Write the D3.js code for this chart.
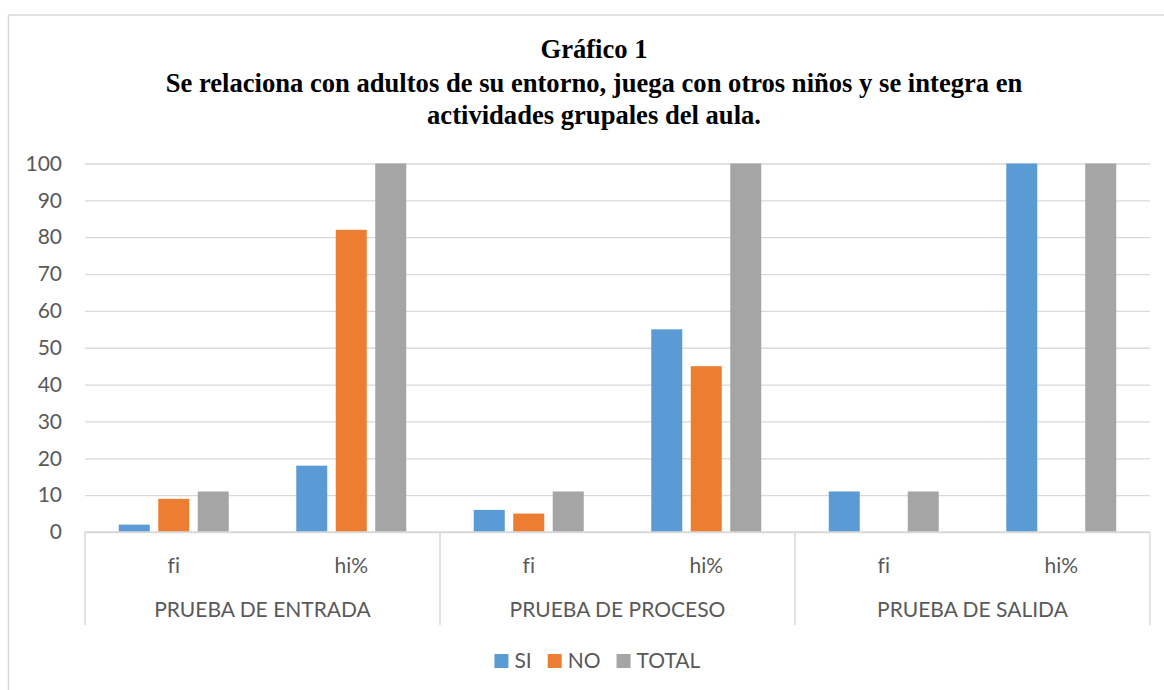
<!DOCTYPE html>
<html>
<head>
<meta charset="utf-8">
<script src="https://cdn.jsdelivr.net/npm/d3@7"></script>
<style>
  html, body { margin: 0; padding: 0; background: #ffffff; }
  svg { display: block; }
  .tick text { font-family: Lato, "Open Sans", sans-serif; }
  text.measure { font-variant-ligatures: none; font-feature-settings: "liga" 0, "clig" 0; }
</style>
</head>
<body>
<svg id="chart" width="1164" height="690"></svg>
<script>
// Grouped columns: three tests, each split into fi / hi%, three series per slot
const tests = ["PRUEBA DE ENTRADA", "PRUEBA DE PROCESO", "PRUEBA DE SALIDA"];
const measures = ["fi", "hi%"];
const seriesNames = ["SI", "NO", "TOTAL"];
const seriesColors = ["#5b9bd5", "#ed7d31", "#a5a5a5"];
const siValues    = [2, 18, 6, 55, 11, 100];
const noValues    = [9, 82, 5, 45, 0, 0];
const totalValues = [11, 100, 11, 100, 11, 100];
const yTicks = [0, 10, 20, 30, 40, 50, 60, 70, 80, 90, 100];
const titleLines = [
  "Gráfico 1",
  "Se relaciona con adultos de su entorno, juega con otros niños y se integra en",
  "actividades grupales del aula."
];

const seriesValues = [siValues, noValues, totalValues];
const slots = [];
tests.forEach((t, i) => measures.forEach((m, j) => slots.push({ key: t + "|" + m, test: t, measure: m })));

const svg = d3.select("#chart");
const W = 1164, H = 690;
const plot = { left: 85, right: 1150, top: 163.5, bottom: 532 };
const centerX = 594;
const axisColor = "#d9d9d9";
const textColor = "#595959";
const sansFont = "Lato, 'Open Sans', sans-serif";

// chart frame
svg.append("rect")
  .attr("x", 8.5).attr("y", 15)
  .attr("width", W + 20).attr("height", H + 20)
  .attr("fill", "#ffffff")
  .attr("stroke", axisColor).attr("stroke-width", 1.5);

// title
const titleBaselines = [58, 92, 124];
svg.append("g").selectAll("text")
  .data(titleLines)
  .join("text")
  .attr("x", centerX)
  .attr("y", (d, i) => titleBaselines[i])
  .attr("text-anchor", "middle")
  .attr("font-family", "'Liberation Serif', 'Times New Roman', serif")
  .attr("font-weight", "bold")
  .attr("font-size", 26.6)
  .attr("fill", "#000000")
  .text(d => d);

// scales
const x0 = d3.scaleBand()
  .domain(slots.map(s => s.key))
  .range([plot.left, plot.right])
  .padding(0);

const x1 = d3.scaleBand()
  .domain(seriesNames)
  .range([0, x0.bandwidth()])
  .paddingInner(0.215)
  .paddingOuter(0.855);

const y = d3.scaleLinear()
  .domain([0, 100])
  .range([plot.bottom, plot.top]);

// gridlines + value labels
const yAxis = d3.axisLeft(y)
  .tickValues(yTicks)
  .tickSize(-(plot.right - plot.left))
  .tickPadding(23)
  .tickFormat(d3.format("d"));

const yg = svg.append("g")
  .attr("transform", `translate(${plot.left},0)`)
  .call(yAxis);
yg.select(".domain").remove();
yg.selectAll(".tick line")
  .attr("stroke", axisColor)
  .attr("stroke-width", 1.3);
yg.selectAll(".tick text")
  .attr("fill", textColor)
  .attr("font-size", 21);

// bars
const barGroups = svg.append("g")
  .selectAll("g")
  .data(slots)
  .join("g")
  .attr("transform", d => `translate(${x0(d.key)},0)`);

barGroups.selectAll("rect")
  .data((d, i) => seriesNames.map((name, k) => ({ name, value: seriesValues[k][i], color: seriesColors[k] })))
  .join("rect")
  .attr("x", d => x1(d.name))
  .attr("width", x1.bandwidth())
  .attr("y", d => y(d.value))
  .attr("height", d => y(0) - y(d.value))
  .attr("fill", d => d.color);

// category axis: baseline, separators, two label levels
const catAxis = svg.append("g");
catAxis.append("line")
  .attr("x1", plot.left).attr("x2", plot.right)
  .attr("y1", y(0)).attr("y2", y(0))
  .attr("stroke", axisColor).attr("stroke-width", 1.5);

const testBand = d3.scaleBand().domain(tests).range([plot.left, plot.right]).padding(0);
const sepX = tests.map(t => testBand(t)).concat([plot.right]);
catAxis.selectAll("line.sep")
  .data(sepX)
  .join("line")
  .attr("class", "sep")
  .attr("x1", d => d).attr("x2", d => d)
  .attr("y1", y(0)).attr("y2", 625)
  .attr("stroke", axisColor).attr("stroke-width", 1.5);

catAxis.selectAll("text.measure")
  .data(slots)
  .join("text")
  .attr("class", "measure")
  .attr("x", d => x0(d.key) + x0.bandwidth() / 2)
  .attr("y", 573)
  .attr("text-anchor", "middle")
  .attr("font-family", sansFont)
  .attr("font-size", 21)
  .style("font-variant-ligatures", "none")
  .attr("fill", textColor)
  .text(d => d.measure);

catAxis.selectAll("text.test")
  .data(tests)
  .join("text")
  .attr("class", "test")
  .attr("x", d => testBand(d) + testBand.bandwidth() / 2)
  .attr("y", 617)
  .attr("text-anchor", "middle")
  .attr("font-family", sansFont)
  .attr("font-size", 21)
  .attr("fill", textColor)
  .text(d => d);

// legend
const legend = svg.append("g");
const items = legend.selectAll("g")
  .data(seriesNames)
  .join("g");
items.append("rect")
  .attr("width", 14).attr("height", 14)
  .attr("y", 654)
  .attr("fill", (d, i) => seriesColors[i]);
items.append("text")
  .attr("x", 20)
  .attr("y", 668)
  .attr("font-family", sansFont)
  .attr("font-size", 21)
  .attr("fill", textColor)
  .text(d => d);

let cursor = 0;
const itemGap = 16;
items.each(function () {
  const w = this.getBBox().width;
  d3.select(this).attr("transform", `translate(${cursor},0)`);
  cursor += w + itemGap;
});
const legendWidth = cursor - itemGap;
legend.attr("transform", `translate(${597.5 - legendWidth / 2},0)`);
</script>
</body>
</html>
